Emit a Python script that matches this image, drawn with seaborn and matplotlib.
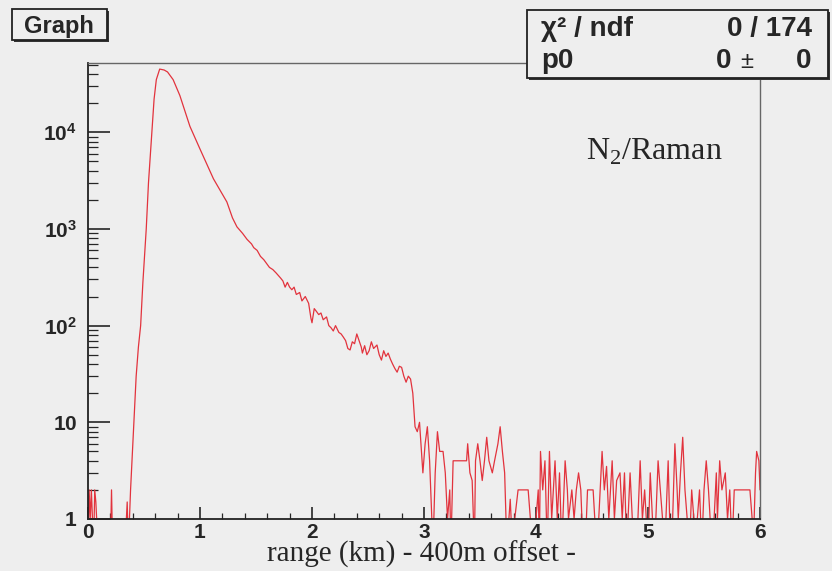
import numpy as np
import matplotlib
matplotlib.use("Agg")
import matplotlib.pyplot as plt
import seaborn as sns
from matplotlib.patches import Rectangle
from matplotlib.ticker import FixedLocator, LogLocator, NullFormatter

# --- data (range in km, counts per bin) ---
range_km = [0.00, 0.01, 0.02, 0.03, 0.05, 0.06, 0.07, 0.09, 0.20, 0.21, 0.22, 0.33,
            0.35, 0.36, 0.37, 0.38, 0.40, 0.41, 0.43, 0.45, 0.47, 0.49, 0.52, 0.54,
            0.57, 0.59, 0.61, 0.64, 0.68, 0.71, 0.76, 0.82, 0.87, 0.91, 0.96, 1.00,
            1.06, 1.12, 1.18, 1.24, 1.29, 1.33, 1.38, 1.42, 1.46, 1.48, 1.51, 1.54,
            1.57, 1.60, 1.62, 1.65, 1.68, 1.70, 1.72, 1.74, 1.76, 1.78, 1.80, 1.82,
            1.84, 1.86, 1.89, 1.91, 1.94, 1.97, 1.99, 2.00, 2.02, 2.04, 2.06, 2.08,
            2.10, 2.13, 2.15, 2.17, 2.19, 2.21, 2.24, 2.26, 2.28, 2.30, 2.32, 2.34,
            2.36, 2.38, 2.40, 2.42, 2.44, 2.45, 2.47, 2.49, 2.51, 2.53, 2.55, 2.58,
            2.60, 2.62, 2.64, 2.66, 2.68, 2.70, 2.72, 2.74, 2.76, 2.78, 2.80, 2.82,
            2.84, 2.86, 2.88]
counts = [0, 2, 1, 2, 0, 2, 1.5, 0, 0, 2, 0, 0,
          1.5, 0, 1, 2, 6, 10, 30, 60, 100, 280, 1000, 3000,
          1.0e4, 2.2e4, 3.5e4, 4.5e4, 4.4e4, 4.2e4, 3.5e4, 2.4e4, 1.6e4, 1.15e4, 8500, 6700,
          4700, 3300, 2500, 1900, 1300, 1050, 900, 780, 700, 640, 600, 520,
          480, 430, 400, 380, 350, 330, 310, 290, 250, 280, 250, 235,
          250, 210, 220, 180, 200, 170, 120, 107, 150, 140, 130, 135,
          115, 123, 100, 95, 88, 100, 85, 82, 76, 70, 58, 56,
          68, 65, 82, 70, 60, 52, 62, 50, 55, 68, 58, 63,
          50, 44, 55, 48, 52, 45, 40, 36, 33, 38, 37, 30,
          26, 30, 28]

# noisy tail beyond ~2.9 km
tail_km = [2.90, 2.92, 2.94, 2.96, 2.99, 3.01, 3.03, 3.05, 3.08, 3.10, 3.12, 3.14,
           3.17, 3.19, 3.21, 3.23, 3.24, 3.26, 3.29, 3.32, 3.35, 3.38, 3.39, 3.41,
           3.43, 3.45, 3.46, 3.48, 3.50, 3.52, 3.54, 3.56, 3.58, 3.61, 3.63, 3.66,
           3.68, 3.70, 3.72, 3.74, 3.77, 3.79, 3.81, 3.84, 3.89, 3.93, 3.95, 3.97,
           4.00, 4.02, 4.03, 4.04, 4.06, 4.08, 4.10, 4.12, 4.14, 4.17, 4.19, 4.21,
           4.23, 4.26, 4.28, 4.29, 4.32, 4.34, 4.36, 4.38, 4.40, 4.41, 4.44, 4.46,
           4.49, 4.51, 4.54, 4.56, 4.59, 4.61, 4.63, 4.65, 4.68, 4.70, 4.72, 4.75,
           4.77, 4.79, 4.81, 4.84, 4.86, 4.88, 4.90, 4.93, 4.95, 4.97, 5.00, 5.02,
           5.04, 5.06, 5.09, 5.11, 5.13, 5.15, 5.18, 5.20, 5.22, 5.24, 5.26, 5.27,
           5.29, 5.31, 5.33, 5.35, 5.37, 5.39, 5.41, 5.44, 5.46, 5.48, 5.50, 5.52,
           5.54, 5.57, 5.59, 5.61, 5.62, 5.64, 5.66, 5.69, 5.71, 5.73, 5.75, 5.77,
           5.79, 5.85, 5.91, 5.93, 5.94, 5.96, 5.97, 5.99, 6.00]
tail_counts = [20, 9, 8, 10, 3, 6, 9, 4, 0, 3, 8, 5,
               5, 3, 1, 2, 0, 4, 4, 4, 4, 4, 6, 3,
               2.5, 0, 4, 6, 4, 2.5, 4, 7, 4, 3, 4, 6,
               9, 5, 3, 0, 1.6, 0, 1, 2, 2, 2, 1, 0,
               1, 2, 0, 5, 2, 4, 0, 5, 1, 4, 1, 3,
               0, 4, 2, 1, 2, 1, 2, 3, 2, 1, 0, 2,
               2, 2, 0, 1, 5, 2, 3.5, 1, 4, 1, 2.5, 3,
               1, 3, 0, 3, 1, 1, 0, 4, 1, 2, 0, 3,
               1, 0, 4, 2, 1, 0, 4, 0, 1, 6, 2, 1,
               3, 7, 2, 1, 0, 2, 1, 1, 2, 0, 2, 4,
               2, 0, 1, 3, 1, 4, 2, 3, 1, 2, 0, 2,
               2, 2, 2, 1, 0, 3, 5, 4, 2]

y_major = [1, 10, 100, 1000, 10000]
y_labels = [r"$\mathbf{1}$", r"$\mathbf{10}$", r"$\mathbf{10^{2}}$",
            r"$\mathbf{10^{3}}$", r"$\mathbf{10^{4}}$"]

# --- styling (ROOT-like look) ---
sns.set_style("ticks")
bg = "#eeeeee"
plt.rcParams["font.family"] = ["Liberation Sans", "DejaVu Sans"]
plt.rcParams["mathtext.fontset"] = "custom"
plt.rcParams["mathtext.bf"] = "Liberation Sans:bold"
plt.rcParams["mathtext.rm"] = "Liberation Serif"

fig = plt.figure(figsize=(8.32, 5.71), dpi=100, facecolor=bg)
ax = fig.add_axes([88 / 832, 1 - 519 / 571, (760 - 88) / 832, (519 - 63) / 571])
ax.set_facecolor(bg)

x_all = np.array(range_km + tail_km)
y_all = np.array(counts + tail_counts, dtype=float)
y_plot = np.where(y_all > 0, y_all, 0.5)  # empty bins fall below the axis

sns.lineplot(x=x_all, y=y_plot, estimator=None, sort=False, color="#e2333d",
             linewidth=0.9, ax=ax)

ax.set_yscale("log")
ax.set_xlim(0, 6)
ax.set_ylim(1, 5.2e4)

ax.yaxis.set_major_locator(FixedLocator(y_major))
ax.set_yticklabels(y_labels)
ax.yaxis.set_minor_locator(LogLocator(base=10, subs=np.arange(2, 10)))
ax.yaxis.set_minor_formatter(NullFormatter())
ax.set_xticks([0, 1, 2, 3, 4, 5, 6])
ax.set_xticklabels([r"$\mathbf{%d}$" % i for i in range(7)])
ax.set_xticks(np.arange(0, 6.01, 0.2), minor=True)

ax.tick_params(axis="y", which="major", direction="in", length=16, width=1.2,
               labelsize=15, pad=8, right=False)
ax.tick_params(axis="y", which="minor", direction="in", length=7, width=0.9, right=False)
ax.tick_params(axis="x", which="major", direction="in", length=9, width=1.2,
               labelsize=15, pad=3, top=False)
ax.tick_params(axis="x", which="minor", direction="in", length=4.5, width=0.9, top=False)

for side in ["left", "bottom"]:
    ax.spines[side].set_color("#222222")
    ax.spines[side].set_linewidth(1.3)
for side in ["top", "right"]:
    ax.spines[side].set_visible(True)
    ax.spines[side].set_color("#666666")
    ax.spines[side].set_linewidth(1.0)

ax.set_xlabel("")
ax.set_ylabel("")

# annotations
fig.text(586 / 832, 1 - 160 / 571, r"N$_2$/Raman", family="Liberation Serif",
         fontsize=23, ha="left", va="baseline")
fig.text(421 / 832, 1 - 562 / 571, "range (km) - 400m offset -",
         family="Liberation Serif", fontsize=21, ha="center", va="baseline")

# title box
fig.patches.append(Rectangle((14 / 832, 1 - 42 / 571), 95 / 832, 31 / 571,
                             transform=fig.transFigure, facecolor="#333333",
                             edgecolor="none", zorder=2))
fig.patches.append(Rectangle((12 / 832, 1 - 40 / 571), 95 / 832, 31 / 571,
                             transform=fig.transFigure, facecolor=bg,
                             edgecolor="#222222", linewidth=1.3, zorder=3))
fig.text(59 / 832, 1 - 27 / 571, "Graph", fontsize=17, fontweight="bold",
         ha="center", va="center", zorder=4)

# stats box
fig.patches.append(Rectangle((529 / 832, 1 - 80 / 571), 301 / 832, 68 / 571,
                             transform=fig.transFigure, facecolor="#333333",
                             edgecolor="none", zorder=2))
fig.patches.append(Rectangle((527 / 832, 1 - 78 / 571), 301 / 832, 68 / 571,
                             transform=fig.transFigure, facecolor=bg,
                             edgecolor="#222222", linewidth=1.3, zorder=3))
fig.text(541 / 832, 1 - 29 / 571, "χ² / ndf", fontsize=20, fontweight="bold",
         ha="left", va="center", zorder=4)
fig.text(812 / 832, 1 - 29 / 571, "0 / 174", fontsize=20, fontweight="bold",
         ha="right", va="center", zorder=4)
fig.text(541 / 832, 1 - 61 / 571, "p0", fontsize=20, fontweight="bold",
         ha="left", va="center", zorder=4)
fig.text(731 / 832, 1 - 61 / 571, "0", fontsize=20, fontweight="bold",
         ha="right", va="center", zorder=4)
fig.text(747 / 832, 1 - 62 / 571, "±", fontsize=17,
         ha="center", va="center", zorder=4)
fig.text(811 / 832, 1 - 61 / 571, "0", fontsize=20, fontweight="bold",
         ha="right", va="center", zorder=4)

assert len(range_km) == len(counts) and len(tail_km) == len(tail_counts)
fig.savefig("out.png", dpi=100, facecolor=bg)
